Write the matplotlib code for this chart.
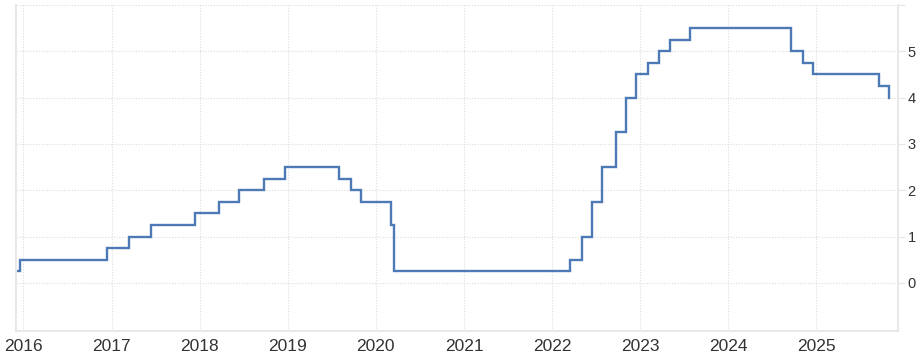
import matplotlib
matplotlib.use("Agg")
import matplotlib.pyplot as plt
import matplotlib.dates as mdates
import pandas as pd

dates = ["2015-12-01", "2015-12-16", "2016-12-14", "2017-03-15", "2017-06-14",
         "2017-12-13", "2018-03-21", "2018-06-13", "2018-09-26", "2018-12-19",
         "2019-07-31", "2019-09-18", "2019-10-30", "2020-03-03", "2020-03-15",
         "2022-03-16", "2022-05-04", "2022-06-15", "2022-07-27", "2022-09-21",
         "2022-11-02", "2022-12-14", "2023-02-01", "2023-03-22", "2023-05-03",
         "2023-07-26", "2024-09-18", "2024-11-07", "2024-12-18", "2025-09-17",
         "2025-10-29"]
rates = [0.25, 0.5, 0.75, 1.0, 1.25,
         1.5, 1.75, 2.0, 2.25, 2.5,
         2.25, 2.0, 1.75, 1.25, 0.25,
         0.5, 1.0, 1.75, 2.5, 3.25,
         4.0, 4.5, 4.75, 5.0, 5.25,
         5.5, 5.0, 4.75, 4.5, 4.25,
         4.0]
year_ticks = list(range(2016, 2026))
y_ticks = [0, 1, 2, 3, 4, 5]

W, H = 922, 357
fig = plt.figure(figsize=(W / 100, H / 100), dpi=100)
ax = fig.add_axes([16 / W, (H - 331) / H, (898 - 16) / W, (331 - 5) / H])

x = pd.to_datetime(dates)
ax.plot(x, rates, drawstyle="steps-post", color="#4d7ab5", lw=1.7, solid_joinstyle="miter")

ax.set_xlim(pd.Timestamp("2015-12-01"), pd.Timestamp("2025-12-05"))
ax.set_ylim(-1.04, 6.0)

ax.set_xticks([pd.Timestamp(f"{y}-01-01") for y in year_ticks])
ax.xaxis.set_major_formatter(mdates.DateFormatter("%Y"))
ax.set_yticks(y_ticks)
ax.set_yticks([6], minor=True)
ax.yaxis.tick_right()

for lab in ax.get_xticklabels():
    lab.set_fontfamily("Liberation Sans")
for lab in ax.get_yticklabels():
    lab.set_fontfamily("Liberation Sans")

ax.tick_params(axis="x", length=0, labelsize=12.5, colors="#333333", pad=6)
ax.tick_params(axis="y", which="both", length=5, width=0.8, color="#e6e6e6",
               labelsize=10.5, labelcolor="#333333", pad=2)

ax.grid(True, which="both", color="#dcdcdc", linestyle=(0, (1, 1.5)), linewidth=0.8)
ax.set_axisbelow(True)

ax.spines["top"].set_visible(False)
for s in ["left", "right", "bottom"]:
    ax.spines[s].set_color("#e8e8e8")
    ax.spines[s].set_linewidth(1.5)

fig.savefig("out.png", dpi=100)
